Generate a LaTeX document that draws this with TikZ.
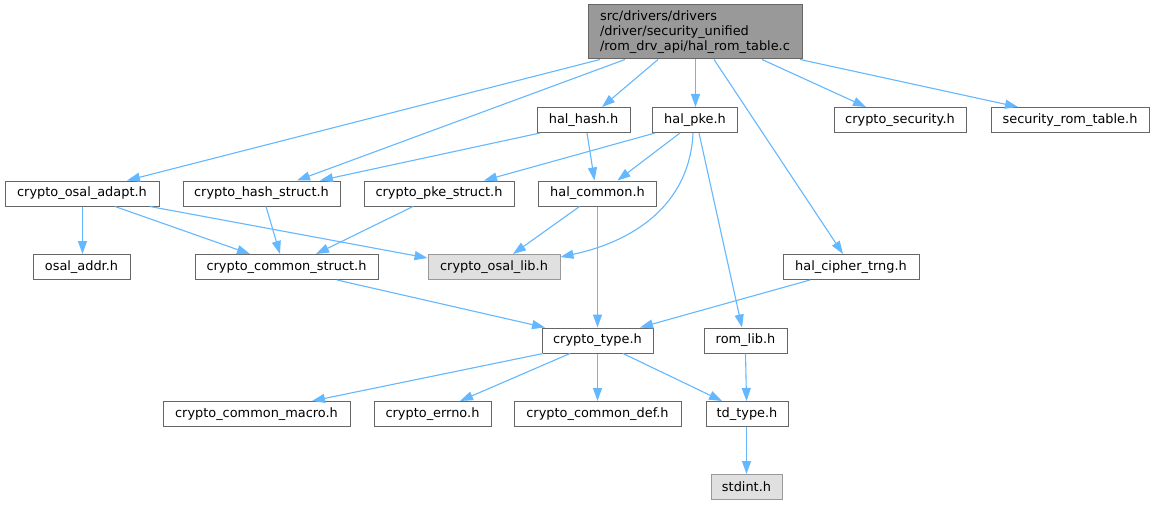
\documentclass[tikz,border=0pt]{standalone}
\usepackage{fontspec}
\setmainfont{DejaVu Sans}
\usetikzlibrary{arrows.meta,calc}
\definecolor{edgeblue}{HTML}{63B8FF}
\definecolor{bordergray}{HTML}{666666}
\definecolor{lightborder}{HTML}{999999}
\definecolor{rootfill}{HTML}{999999}
\definecolor{extfill}{HTML}{E0E0E0}
\begin{document}
\begin{tikzpicture}[x=1pt,y=-1pt,
  box/.style={draw=bordergray, line width=1pt, fill=white, minimum height=25pt, inner sep=0pt, font=\fontsize{12.9}{15}\selectfont, text=black},
  extbox/.style={box, draw=lightborder, fill=extfill},
  dep/.style={draw=edgeblue, line width=1.1pt, -{Triangle[length=13pt,width=9pt]}}
]
\useasboundingbox[fill=white] (0,0) rectangle (1155,505);

\node[box, fill=rootfill, minimum width=214pt, minimum height=54pt, align=left] (root) at (695,32) {src/drivers/drivers\\/driver/security\_unified\\/rom\_drv\_api/hal\_rom\_table.c};
\node[box, minimum width=93pt] (halhash) at (583.5,120) {hal\_hash.h};
\node[box, minimum width=85pt] (halpke) at (695,120) {hal\_pke.h};
\node[box, minimum width=132pt] (cryptosec) at (900,120) {crypto\_security.h};
\node[box, minimum width=158pt] (secrom) at (1070,120) {security\_rom\_table.h};
\node[box, minimum width=154pt] (osaladapt) at (82,193.5) {crypto\_osal\_adapt.h};
\node[box, minimum width=157pt] (hashstruct) at (261.5,193.5) {crypto\_hash\_struct.h};
\node[box, minimum width=150pt] (pkestruct) at (439,193.5) {crypto\_pke\_struct.h};
\node[box, minimum width=118pt] (halcommon) at (597.5,193.5) {hal\_common.h};
\node[box, minimum width=97pt] (osaladdr) at (81.5,267) {osal\_addr.h};
\node[box, minimum width=183pt] (commonstruct) at (286.5,267) {crypto\_common\_struct.h};
\node[extbox, minimum width=132pt] (osallib) at (494,267) {crypto\_osal\_lib.h};
\node[box, minimum width=136pt] (ciphertrng) at (851,267) {hal\_cipher\_trng.h};
\node[box, minimum width=111pt] (cryptotype) at (597.5,340.5) {crypto\_type.h};
\node[box, minimum width=83pt] (romlib) at (745.5,340.5) {rom\_lib.h};
\node[box, minimum width=187pt] (macro) at (256.5,414) {crypto\_common\_macro.h};
\node[box, minimum width=117pt] (errno) at (432.5,414) {crypto\_errno.h};
\node[box, minimum width=167pt] (commondef) at (597.5,414) {crypto\_common\_def.h};
\node[box, minimum width=82pt] (tdtype) at (747,414) {td\_type.h};
\node[extbox, minimum width=71pt] (stdint) at (746.5,487) {stdint.h};

% root edges
\draw[dep] ([xshift=-95pt]root.south) -- ([xshift=45pt]osaladapt.north);
\draw[dep] ([xshift=-70pt]root.south) -- ([xshift=35.5pt]hashstruct.north);
\draw[dep] ([xshift=-37pt]root.south) -- ([xshift=18.5pt]halhash.north);
\draw[dep] ([xshift=0.5pt]root.south) -- ([xshift=0.5pt]halpke.north);
\draw[dep] ([xshift=19pt]root.south) -- ([xshift=-8pt]ciphertrng.north);
\draw[dep] ([xshift=67pt]root.south) -- ([xshift=-34pt]cryptosec.north);
\draw[dep] ([xshift=105pt]root.south) -- ([xshift=-52pt]secrom.north);
% hal_hash
\draw[dep] ([xshift=-43.5pt]halhash.south) -- ([xshift=58.5pt]hashstruct.north);
\draw[dep] ([xshift=3.5pt]halhash.south) -- ([xshift=-3pt]halcommon.north);
% hal_pke
\draw[dep] ([xshift=-40pt]halpke.south) -- ([xshift=45pt]pkestruct.north);
\draw[dep] ([xshift=-15pt]halpke.south) -- ([xshift=20pt]halcommon.north);
\draw[dep] ([xshift=-2pt]halpke.south) .. controls (690,200) and (640,240) .. ([yshift=10pt]osallib.east);
\draw[dep] ([xshift=4pt]halpke.south) -- ([xshift=-3.5pt]romlib.north);
% crypto_osal_adapt
\draw[dep] ([xshift=0.5pt]osaladapt.south) -- ([xshift=0.5pt]osaladapt.south |- osaladdr.north);
\draw[dep] ([xshift=33pt]osaladapt.south) -- ([xshift=-36.5pt]commonstruct.north);
\draw[dep] ([xshift=68pt]osaladapt.south) -- ([yshift=9pt]osallib.west);
% structs
\draw[dep] ([xshift=4.5pt]hashstruct.south) -- ([xshift=-6.5pt]commonstruct.north);
\draw[dep] ([xshift=-26pt]pkestruct.south) -- ([xshift=29.5pt]commonstruct.north);
% hal_common
\draw[dep] ([xshift=-18pt]halcommon.south) -- ([xshift=19pt]osallib.north);
\draw[dep] (halcommon.south) -- (halcommon.south |- cryptotype.north);
% to crypto_type
\draw[dep] ([xshift=50.5pt]commonstruct.south) -- ([xshift=-52.5pt]cryptotype.north);
\draw[dep] ([xshift=-41pt]ciphertrng.south) -- ([xshift=42.5pt]cryptotype.north);
% rom_lib
\draw[dep] (romlib.south) -- ([xshift=-0.5pt]tdtype.north);
% crypto_type
\draw[dep] ([xshift=-54.5pt]cryptotype.south) -- ([xshift=55.5pt]macro.north);
\draw[dep] ([xshift=-27.5pt]cryptotype.south) -- ([xshift=27.5pt]errno.north);
\draw[dep] (cryptotype.south) -- (commondef.north);
\draw[dep] ([xshift=25.5pt]cryptotype.south) -- ([xshift=-25pt]tdtype.north);
% td_type
\draw[dep] ([xshift=-0.5pt]tdtype.south) -- (stdint.north);
\end{tikzpicture}
\end{document}
